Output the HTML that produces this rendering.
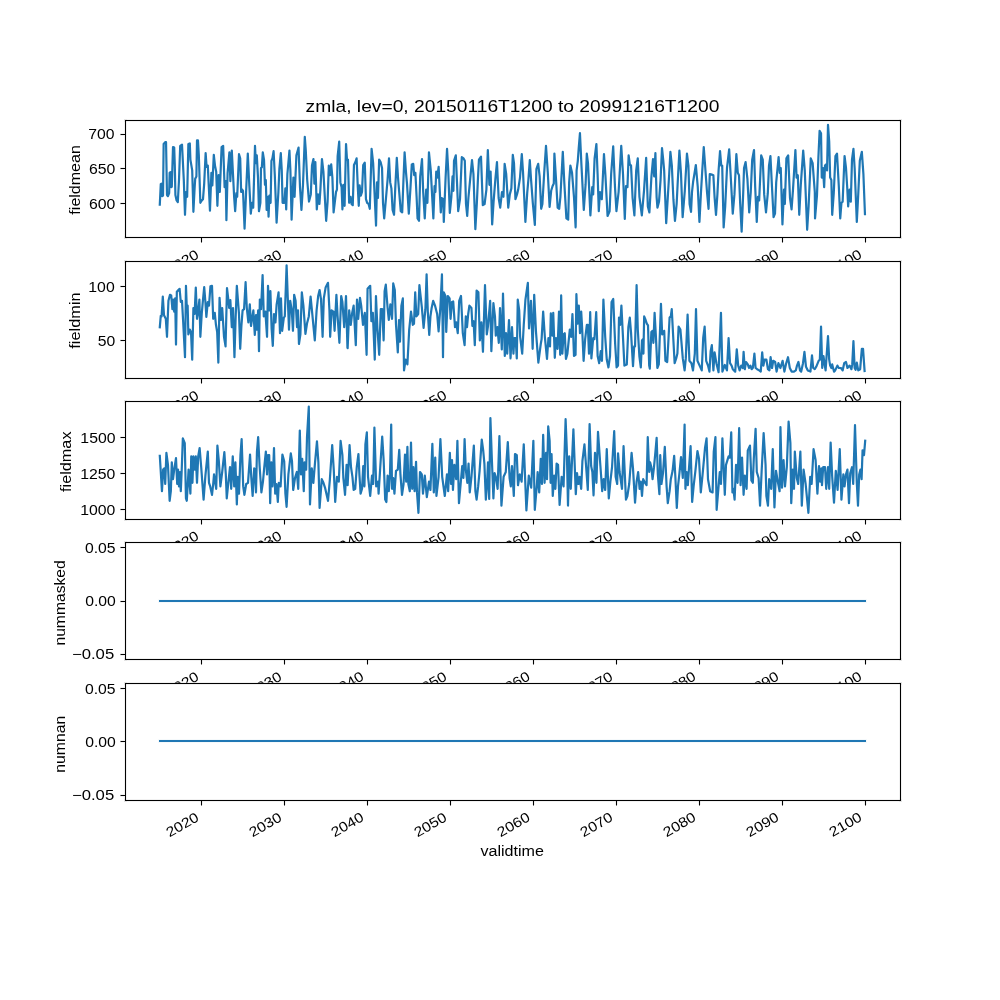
<!DOCTYPE html><html><head><meta charset="utf-8"><style>html,body{margin:0;padding:0;background:#fff;width:1000px;height:1000px;overflow:hidden}svg{display:block;will-change:transform}text{font-family:"Liberation Sans",sans-serif;fill:#000}</style></head><body>
<svg width="1000" height="1000" viewBox="0 0 1000 1000">
<rect x="0" y="0" width="1000" height="1000" fill="#fff"/>
<defs><clipPath id="c0"><rect x="125.0" y="120.000" width="775.0" height="117.241"/></clipPath><clipPath id="c1"><rect x="125.0" y="260.690" width="775.0" height="117.241"/></clipPath><clipPath id="c2"><rect x="125.0" y="401.379" width="775.0" height="117.241"/></clipPath><clipPath id="c3"><rect x="125.0" y="542.069" width="775.0" height="117.241"/></clipPath><clipPath id="c4"><rect x="125.0" y="682.759" width="775.0" height="117.241"/></clipPath></defs>
<g id="ax0">
<rect x="125.0" y="120.000" width="775.0" height="117.241" fill="#fff"/>
<path d="M159.80 204.60 L160.76 184.20 L161.60 183.60 L162.20 196.20 L163.04 195.60 L163.64 144.00 L165.20 142.20 L166.04 142.20 L167.00 195.00 L167.96 196.20 L169.16 193.20 L169.64 172.80 L170.60 172.20 L171.20 187.20 L171.80 186.60 L173.00 147.00 L174.20 147.60 L174.80 165.60 L175.40 195.00 L176.60 200.40 L177.80 202.20 L179.00 180.00 L180.20 145.80 L182.00 144.60 L183.80 180.00 L185.00 214.80 L185.96 192.00 L187.16 196.80 L188.36 144.00 L189.80 143.40 L190.40 159.60 L192.20 170.40 L193.40 211.80 L194.60 188.40 L195.20 178.80 L196.40 176.40 L197.00 140.40 L197.96 140.40 L198.80 154.80 L200.36 202.80 L201.80 200.40 L203.00 199.20 L204.20 183.60 L205.64 153.00 L206.60 166.80 L207.80 165.60 L209.96 210.60 L211.40 172.80 L212.36 185.40 L213.80 154.80 L215.00 165.60 L216.20 171.60 L217.40 205.80 L218.60 175.20 L219.80 192.00 L221.60 147.00 L223.16 145.80 L224.60 187.20 L225.80 181.20 L226.40 220.20 L227.60 172.80 L229.40 152.40 L230.36 181.20 L231.80 150.60 L234.20 198.00 L235.16 211.20 L236.36 193.20 L237.20 196.80 L239.00 154.20 L240.20 158.40 L241.16 192.00 L242.16 189.60 L243.00 190.80 L244.56 228.60 L246.00 194.40 L247.80 153.60 L249.36 186.00 L250.80 213.60 L252.00 202.80 L253.20 207.60 L255.00 145.80 L255.84 163.20 L256.80 155.40 L258.00 177.60 L258.96 211.20 L260.40 202.80 L261.00 168.00 L261.84 167.40 L262.80 152.40 L264.00 159.60 L264.96 184.80 L265.80 180.00 L266.64 210.00 L267.84 196.80 L268.56 216.60 L269.40 195.60 L270.60 202.80 L271.44 160.80 L272.40 158.40 L273.60 151.20 L274.80 175.20 L276.60 222.60 L278.40 192.00 L279.36 169.20 L280.80 153.00 L281.76 170.40 L282.60 202.80 L284.40 202.80 L285.36 188.40 L286.20 209.40 L287.40 174.00 L289.44 150.60 L290.40 170.40 L291.60 219.60 L293.40 177.60 L294.60 196.80 L296.40 155.40 L298.56 147.60 L300.00 187.20 L301.44 210.00 L303.00 184.80 L304.80 136.80 L305.76 150.00 L307.20 180.00 L309.00 201.60 L310.80 194.40 L312.00 165.60 L313.44 159.00 L314.40 183.60 L315.36 162.00 L316.80 209.40 L318.00 194.40 L319.44 204.00 L320.40 189.60 L321.96 159.00 L323.40 171.60 L326.16 220.80 L327.60 201.60 L328.80 165.60 L330.00 175.20 L331.20 164.40 L332.40 177.60 L333.60 212.40 L336.00 192.00 L336.96 189.60 L337.64 156.00 L339.20 141.60 L340.40 182.40 L341.60 187.20 L342.44 209.40 L343.40 184.80 L344.60 205.80 L346.04 144.00 L347.00 159.60 L347.96 159.60 L349.16 202.80 L350.60 196.80 L351.56 204.00 L352.76 205.20 L353.96 165.00 L355.40 162.00 L356.60 158.40 L357.80 187.20 L358.76 205.80 L359.60 185.40 L360.80 195.60 L362.00 192.00 L363.20 165.00 L364.76 162.60 L365.96 199.20 L367.16 202.80 L368.60 204.00 L369.80 208.80 L371.60 148.80 L373.16 163.20 L374.60 194.40 L376.04 225.60 L377.00 182.40 L377.96 198.00 L379.16 159.60 L380.60 162.00 L382.04 168.00 L383.00 202.80 L384.20 218.40 L386.00 198.00 L387.56 180.00 L389.00 158.40 L390.20 182.40 L391.40 188.40 L392.60 210.00 L394.04 214.80 L395.24 188.40 L396.80 157.80 L398.00 177.60 L399.20 192.00 L400.76 211.20 L402.20 212.40 L403.40 181.20 L404.60 152.40 L406.04 172.80 L407.00 183.60 L408.80 213.60 L410.36 189.60 L411.80 164.40 L413.24 163.80 L414.20 175.20 L415.40 172.80 L416.60 196.80 L417.56 218.40 L419.00 220.80 L420.20 176.40 L422.00 159.00 L423.20 192.00 L424.76 218.40 L426.20 189.60 L427.40 202.80 L428.96 152.40 L430.76 170.40 L433.36 218.40 L434.56 186.00 L435.40 192.00 L436.24 171.60 L437.20 177.60 L438.64 166.80 L439.84 192.00 L440.80 212.40 L441.76 198.00 L443.20 199.20 L443.80 222.00 L445.60 177.60 L447.04 148.80 L448.24 170.40 L449.80 213.00 L451.36 196.80 L452.56 176.40 L453.40 190.80 L454.00 160.80 L455.80 155.40 L457.00 182.40 L458.20 211.20 L460.00 199.20 L461.80 157.20 L463.60 158.40 L464.80 160.80 L466.00 204.00 L467.20 216.00 L468.40 198.00 L470.20 178.80 L472.00 160.20 L473.44 174.00 L475.36 229.20 L476.80 204.00 L478.00 177.60 L478.96 159.60 L481.00 156.60 L482.80 205.20 L484.60 204.00 L486.40 189.60 L487.84 150.00 L489.40 184.80 L490.60 171.60 L492.16 224.40 L493.60 201.60 L495.40 178.80 L496.96 162.00 L498.64 198.00 L500.20 207.60 L502.00 192.00 L503.44 196.80 L504.64 163.80 L506.20 174.00 L508.24 207.60 L509.80 194.40 L511.36 188.40 L512.80 154.80 L514.00 163.20 L515.44 199.20 L517.00 194.40 L518.20 189.60 L520.00 177.60 L521.80 154.20 L523.00 171.60 L525.40 222.00 L527.20 193.20 L528.36 180.00 L529.80 160.20 L531.00 178.80 L532.80 202.80 L534.84 225.00 L536.40 169.20 L538.20 163.80 L539.64 176.40 L541.20 208.80 L542.40 204.00 L544.20 172.80 L546.00 145.80 L547.80 172.80 L549.60 207.00 L551.16 190.80 L552.60 186.00 L553.80 183.60 L554.40 153.60 L556.20 182.40 L557.64 207.60 L559.20 208.80 L560.40 196.80 L562.80 151.80 L564.36 183.60 L566.40 218.40 L568.20 219.60 L569.16 182.40 L570.36 165.60 L572.04 172.80 L573.96 196.80 L575.64 227.40 L576.60 170.40 L577.80 160.80 L578.76 147.60 L579.96 133.20 L581.40 164.40 L583.80 210.00 L585.60 184.20 L586.80 153.60 L588.00 163.20 L590.40 215.40 L592.20 187.20 L593.16 194.40 L594.60 158.40 L596.40 144.00 L597.60 174.00 L598.80 211.20 L600.00 192.00 L601.80 199.20 L603.96 154.20 L605.40 175.20 L607.56 216.00 L609.60 211.20 L611.16 174.00 L613.20 146.40 L615.00 187.20 L616.44 211.20 L618.60 192.00 L621.24 145.80 L623.00 174.00 L624.80 219.00 L626.00 186.00 L627.44 187.20 L628.64 155.40 L629.84 164.40 L631.04 165.60 L632.60 198.00 L634.40 215.40 L636.20 170.40 L637.76 158.40 L639.44 196.80 L641.84 215.40 L644.00 190.80 L646.16 157.80 L647.84 206.40 L649.40 212.40 L651.44 176.40 L653.00 159.00 L654.20 176.40 L655.40 153.00 L656.60 196.80 L657.44 207.60 L659.00 201.60 L660.56 180.00 L662.00 148.20 L663.20 159.60 L664.16 170.40 L666.20 223.20 L667.76 198.00 L669.20 174.00 L670.40 151.80 L671.84 165.60 L673.40 199.20 L674.96 220.80 L676.64 204.00 L677.60 184.80 L679.40 150.60 L680.96 172.80 L682.64 217.20 L684.80 190.80 L686.96 153.60 L688.40 165.60 L689.60 204.00 L691.04 211.80 L692.00 192.00 L693.20 181.20 L694.40 174.00 L695.84 165.00 L697.76 187.20 L699.44 222.00 L701.00 192.00 L702.20 171.60 L703.76 147.00 L705.44 170.40 L707.00 192.00 L708.56 208.80 L709.76 174.00 L711.80 174.60 L713.36 175.20 L714.56 196.80 L716.00 214.80 L717.40 194.40 L718.60 170.40 L720.04 151.20 L721.24 165.60 L722.20 165.60 L723.64 227.40 L725.20 206.40 L727.00 168.00 L729.16 149.40 L730.60 174.00 L732.76 213.60 L734.44 194.40 L736.36 154.20 L737.80 172.80 L739.00 175.20 L740.20 204.00 L741.64 231.60 L743.20 193.20 L744.04 168.00 L745.60 162.00 L747.40 178.80 L749.20 212.40 L750.76 192.00 L752.20 159.60 L754.00 150.00 L755.20 187.20 L756.76 222.00 L757.96 196.80 L759.16 200.40 L761.20 155.40 L762.76 159.60 L764.20 194.40 L766.00 212.40 L767.80 193.20 L769.00 165.60 L770.44 156.00 L772.00 187.20 L773.56 217.20 L775.00 213.60 L776.20 182.40 L778.60 157.20 L779.80 172.80 L780.76 168.00 L782.44 224.40 L784.00 189.60 L784.84 204.00 L786.40 158.40 L788.20 155.40 L790.00 198.00 L791.56 209.40 L793.00 189.60 L795.40 150.00 L796.60 177.60 L797.80 175.20 L799.24 214.80 L800.80 184.80 L803.20 150.60 L804.76 170.40 L807.16 229.80 L808.60 206.40 L810.76 158.40 L812.64 163.20 L814.80 192.00 L815.04 218.40 L816.96 195.60 L818.40 157.20 L819.60 130.80 L821.04 133.20 L821.76 177.60 L822.96 168.00 L824.16 187.20 L825.00 165.60 L826.20 164.40 L827.04 170.40 L828.00 124.80 L829.20 141.60 L830.16 177.60 L831.36 180.00 L832.20 214.80 L833.76 193.20 L835.44 156.00 L837.00 153.60 L838.80 186.00 L840.24 218.40 L841.44 202.80 L842.64 201.60 L844.56 156.00 L846.00 168.00 L847.20 187.20 L848.16 206.40 L849.60 189.60 L850.80 201.60 L852.00 159.60 L853.44 148.80 L854.64 168.00 L856.80 222.00 L858.24 194.40 L859.80 160.80 L861.84 151.80 L863.40 174.00 L864.96 214.20" fill="none" stroke="#1f77b4" stroke-width="2.200" stroke-linejoin="round" stroke-linecap="square" clip-path="url(#c0)"/>
<g shape-rendering="crispEdges"><rect x="124" y="119" width="778" height="3" fill="#000" fill-opacity="0.055"/><rect x="124" y="236" width="778" height="3" fill="#000" fill-opacity="0.055"/><rect x="124" y="119" width="3" height="120" fill="#000" fill-opacity="0.055"/><rect x="899" y="119" width="3" height="120" fill="#000" fill-opacity="0.055"/><rect x="200" y="238" width="3" height="4" fill="#000" fill-opacity="0.055"/><rect x="283" y="238" width="3" height="4" fill="#000" fill-opacity="0.055"/><rect x="366" y="238" width="3" height="4" fill="#000" fill-opacity="0.055"/><rect x="449" y="238" width="3" height="4" fill="#000" fill-opacity="0.055"/><rect x="532" y="238" width="3" height="4" fill="#000" fill-opacity="0.055"/><rect x="615" y="238" width="3" height="4" fill="#000" fill-opacity="0.055"/><rect x="698" y="238" width="3" height="4" fill="#000" fill-opacity="0.055"/><rect x="781" y="238" width="3" height="4" fill="#000" fill-opacity="0.055"/><rect x="864" y="238" width="3" height="4" fill="#000" fill-opacity="0.055"/><rect x="120" y="133" width="4" height="3" fill="#000" fill-opacity="0.055"/><rect x="120" y="167" width="4" height="3" fill="#000" fill-opacity="0.055"/><rect x="120" y="202" width="4" height="3" fill="#000" fill-opacity="0.055"/><rect x="201" y="238" width="1" height="4" fill="#000"/><rect x="201" y="242" width="1" height="1" fill="#808080"/><rect x="284" y="238" width="1" height="4" fill="#000"/><rect x="284" y="242" width="1" height="1" fill="#808080"/><rect x="367" y="238" width="1" height="4" fill="#000"/><rect x="367" y="242" width="1" height="1" fill="#808080"/><rect x="450" y="238" width="1" height="4" fill="#000"/><rect x="450" y="242" width="1" height="1" fill="#808080"/><rect x="533" y="238" width="1" height="4" fill="#000"/><rect x="533" y="242" width="1" height="1" fill="#808080"/><rect x="616" y="238" width="1" height="4" fill="#000"/><rect x="616" y="242" width="1" height="1" fill="#808080"/><rect x="699" y="238" width="1" height="4" fill="#000"/><rect x="699" y="242" width="1" height="1" fill="#808080"/><rect x="782" y="238" width="1" height="4" fill="#000"/><rect x="782" y="242" width="1" height="1" fill="#808080"/><rect x="865" y="238" width="1" height="4" fill="#000"/><rect x="865" y="242" width="1" height="1" fill="#808080"/><rect x="121" y="134" width="4" height="1" fill="#000"/><rect x="120" y="134" width="1" height="1" fill="#808080"/><rect x="121" y="168" width="4" height="1" fill="#000"/><rect x="120" y="168" width="1" height="1" fill="#808080"/><rect x="121" y="203" width="4" height="1" fill="#000"/><rect x="120" y="203" width="1" height="1" fill="#808080"/><rect x="125" y="120" width="776" height="1" fill="#000"/><rect x="125" y="237" width="776" height="1" fill="#000"/><rect x="125" y="120" width="1" height="118" fill="#000"/><rect x="900" y="120" width="1" height="118" fill="#000"/></g>
<text transform="translate(169.54 274.83) rotate(-30)" font-size="13.889" text-anchor="start" textLength="35.00" lengthAdjust="spacingAndGlyphs">2020</text>
<text transform="translate(252.40 274.83) rotate(-30)" font-size="13.889" text-anchor="start" textLength="35.00" lengthAdjust="spacingAndGlyphs">2030</text>
<text transform="translate(334.48 274.67) rotate(-30)" font-size="13.889" text-anchor="start" textLength="35.00" lengthAdjust="spacingAndGlyphs">2040</text>
<text transform="translate(417.44 274.76) rotate(-30)" font-size="13.889" text-anchor="start" textLength="35.00" lengthAdjust="spacingAndGlyphs">2050</text>
<text transform="translate(500.59 274.65) rotate(-30)" font-size="13.889" text-anchor="start" textLength="35.12" lengthAdjust="spacingAndGlyphs">2060</text>
<text transform="translate(583.56 274.70) rotate(-30)" font-size="13.889" text-anchor="start" textLength="35.00" lengthAdjust="spacingAndGlyphs">2070</text>
<text transform="translate(666.56 274.64) rotate(-30)" font-size="13.889" text-anchor="start" textLength="35.12" lengthAdjust="spacingAndGlyphs">2080</text>
<text transform="translate(749.54 274.62) rotate(-30)" font-size="13.889" text-anchor="start" textLength="35.12" lengthAdjust="spacingAndGlyphs">2090</text>
<text transform="translate(832.55 274.62) rotate(-30)" font-size="13.889" text-anchor="start" textLength="35.12" lengthAdjust="spacingAndGlyphs">2100</text>
<text transform="translate(115.40 209.31)" font-size="13.889" text-anchor="end" textLength="26.38" lengthAdjust="spacingAndGlyphs">600</text>
<text transform="translate(115.38 173.71)" font-size="13.889" text-anchor="end" textLength="26.38" lengthAdjust="spacingAndGlyphs">650</text>
<text transform="translate(114.46 138.92)" font-size="13.889" text-anchor="end" textLength="26.25" lengthAdjust="spacingAndGlyphs">700</text>
<text transform="translate(80.26 179.88) rotate(-90)" font-size="13.889" text-anchor="middle" textLength="69.50" lengthAdjust="spacingAndGlyphs">fieldmean</text>
<text transform="translate(512.47 112.07)" font-size="16.667" text-anchor="middle" textLength="413.72" lengthAdjust="spacingAndGlyphs">zmla, lev=0, 20150116T1200 to 20991216T1200</text>
</g>
<g id="ax1">
<rect x="125.0" y="260.690" width="775.0" height="117.241" fill="#fff"/>
<path d="M159.80 327.20 L160.76 315.80 L161.60 316.40 L162.80 296.60 L164.00 315.20 L165.80 318.80 L167.00 336.80 L168.44 300.80 L170.00 294.80 L171.20 295.40 L172.40 309.20 L173.24 299.60 L174.20 311.60 L175.16 298.40 L176.00 344.60 L176.84 291.80 L178.40 290.00 L179.60 288.80 L180.80 302.00 L182.00 300.80 L183.20 322.40 L185.00 357.20 L185.96 285.80 L186.80 308.00 L187.64 305.60 L188.36 334.40 L189.80 329.60 L191.00 332.00 L192.20 359.60 L193.40 308.00 L194.60 314.00 L195.80 287.60 L197.00 318.80 L198.20 311.60 L199.40 299.60 L200.36 336.80 L201.80 312.80 L203.00 299.60 L204.20 287.00 L205.40 302.00 L206.36 317.00 L207.80 302.00 L209.00 305.60 L210.44 286.40 L212.00 285.80 L213.20 318.80 L214.76 312.80 L215.96 324.80 L217.16 332.00 L218.36 362.60 L219.56 297.80 L221.00 320.00 L222.20 308.00 L224.00 336.80 L225.56 346.40 L227.00 288.20 L228.20 298.40 L229.16 308.00 L230.36 300.20 L231.80 327.20 L233.00 308.00 L234.44 357.20 L235.64 317.60 L236.84 285.80 L239.00 314.00 L240.20 348.80 L241.40 326.00 L242.60 310.40 L244.04 309.20 L245.60 282.20 L246.80 308.00 L248.36 322.40 L249.80 304.40 L251.00 326.00 L253.36 310.40 L254.80 335.00 L256.00 315.20 L256.96 329.60 L258.16 310.40 L259.00 351.20 L259.84 299.60 L261.04 309.20 L262.60 275.00 L263.80 316.40 L265.36 311.60 L267.04 336.80 L268.00 285.80 L269.20 310.40 L270.40 291.20 L271.60 328.40 L272.80 345.80 L274.00 314.00 L275.44 322.40 L276.64 304.40 L278.56 292.40 L280.00 333.20 L280.96 298.40 L282.16 330.80 L283.84 317.60 L284.80 316.40 L286.60 265.40 L287.80 298.40 L289.00 329.60 L290.20 300.80 L291.76 310.40 L292.96 330.80 L294.16 294.80 L295.60 300.80 L297.04 327.20 L298.00 310.40 L298.96 344.00 L300.40 334.40 L301.84 292.40 L303.40 305.60 L305.44 333.80 L307.00 323.60 L308.80 316.40 L310.60 296.60 L312.40 315.20 L314.80 340.40 L316.60 310.40 L318.16 296.00 L319.60 290.00 L321.04 299.60 L322.60 336.80 L323.80 298.40 L325.60 287.60 L328.00 282.80 L329.44 310.40 L330.16 336.80 L331.60 310.40 L333.40 311.60 L334.60 330.80 L336.40 294.80 L337.60 316.40 L339.40 342.80 L341.20 296.00 L342.40 302.00 L344.20 327.20 L346.00 296.00 L347.44 347.60 L347.64 348.20 L349.20 310.40 L350.76 324.80 L352.20 312.80 L353.64 305.60 L355.80 345.20 L357.00 299.60 L358.20 318.80 L360.00 297.80 L361.20 305.60 L363.00 324.80 L364.80 312.80 L366.60 354.80 L367.56 288.80 L370.20 285.80 L371.40 321.20 L372.84 312.80 L374.76 359.60 L375.96 296.00 L377.40 328.40 L379.20 354.80 L380.76 309.20 L382.20 309.20 L383.64 340.40 L384.60 291.20 L385.80 284.60 L387.60 308.00 L388.80 320.00 L390.36 304.40 L392.04 318.80 L393.24 283.40 L394.80 290.00 L396.00 324.80 L397.80 352.40 L399.00 320.00 L399.96 341.60 L401.40 305.60 L402.84 298.40 L404.04 370.40 L405.60 359.60 L407.40 364.40 L409.20 329.60 L411.00 311.60 L412.80 324.80 L414.00 323.60 L415.20 292.40 L416.40 316.40 L418.20 314.00 L419.40 285.20 L421.80 306.80 L423.60 327.80 L425.40 309.20 L426.60 274.40 L427.80 311.60 L429.24 335.00 L430.44 316.40 L431.64 308.00 L433.20 300.80 L435.00 305.60 L437.16 314.00 L438.60 331.40 L440.40 306.80 L441.96 274.40 L443.00 357.20 L443.84 292.40 L445.40 296.00 L446.24 332.00 L447.80 296.00 L449.60 298.40 L450.56 318.80 L452.00 302.00 L453.20 301.40 L455.00 327.20 L456.20 322.40 L457.76 333.20 L459.20 300.80 L461.00 296.00 L462.80 333.20 L464.60 345.20 L465.80 316.40 L467.00 327.20 L468.20 314.00 L469.40 305.60 L471.44 308.00 L472.40 326.00 L473.60 321.20 L474.80 345.20 L476.60 290.60 L478.40 292.40 L479.84 340.40 L481.40 322.40 L482.96 351.80 L485.00 285.20 L486.80 334.40 L488.00 326.00 L490.16 300.80 L491.36 351.20 L493.40 303.20 L494.96 316.40 L495.80 335.60 L497.36 327.20 L498.80 342.80 L500.00 308.00 L501.80 349.40 L503.00 293.60 L504.80 356.00 L506.00 333.20 L507.20 353.60 L509.00 320.00 L510.56 358.40 L512.00 327.20 L513.44 353.60 L514.40 338.00 L515.60 338.00 L516.80 358.40 L517.76 299.60 L519.20 310.40 L520.16 336.80 L522.20 353.60 L523.76 324.80 L525.44 299.60 L527.84 282.80 L529.04 328.40 L530.96 300.80 L532.64 348.80 L534.20 294.80 L536.00 332.00 L538.36 362.60 L540.76 344.00 L541.60 339.20 L543.16 311.60 L544.84 336.80 L547.00 359.00 L548.44 338.00 L550.00 346.40 L550.84 313.40 L552.40 335.60 L553.24 312.80 L554.80 357.80 L556.00 338.00 L557.56 348.80 L559.00 311.60 L560.20 354.80 L561.16 295.40 L562.36 353.60 L563.56 334.40 L564.76 333.20 L565.96 359.00 L567.40 353.60 L569.80 329.60 L571.24 336.80 L572.44 314.00 L574.00 356.00 L575.56 354.80 L576.40 294.20 L577.60 323.60 L578.80 305.60 L580.00 333.20 L581.20 311.60 L582.04 326.00 L583.60 360.80 L585.16 339.20 L586.84 324.80 L587.80 324.80 L589.00 353.60 L590.20 312.20 L591.40 358.40 L593.20 338.00 L594.40 339.20 L596.20 312.20 L597.64 356.00 L599.20 363.20 L600.76 351.20 L601.96 360.80 L603.40 299.60 L605.20 336.80 L606.76 359.60 L608.44 367.40 L610.00 356.00 L611.56 302.00 L613.24 299.00 L615.16 344.00 L616.60 367.40 L618.04 365.60 L619.00 317.60 L620.20 324.80 L621.40 305.60 L622.60 329.60 L624.40 365.60 L626.80 364.40 L628.36 327.20 L629.80 317.60 L631.00 332.00 L633.00 366.20 L634.20 346.40 L635.04 346.40 L636.60 285.20 L637.80 329.60 L639.36 356.00 L640.80 367.40 L642.00 340.40 L642.96 339.20 L643.44 353.60 L644.16 316.40 L645.60 320.00 L646.80 323.60 L648.00 325.40 L649.20 365.60 L649.80 368.60 L651.36 332.00 L652.56 330.80 L653.40 342.80 L654.60 312.80 L655.80 334.40 L657.36 368.00 L658.80 364.40 L660.96 303.80 L662.16 334.40 L664.20 330.80 L665.40 360.80 L667.20 362.00 L668.16 345.20 L669.60 317.60 L670.80 316.40 L671.76 309.20 L673.20 336.80 L674.64 363.20 L676.20 358.40 L677.40 353.60 L678.60 326.60 L680.40 329.60 L682.80 358.40 L684.60 370.40 L685.80 358.40 L687.60 314.60 L689.40 360.80 L691.44 363.20 L693.00 370.40 L694.80 353.60 L696.00 309.20 L697.44 360.80 L699.60 365.60 L701.76 370.40 L703.20 338.00 L704.64 326.60 L706.20 360.80 L708.00 365.60 L709.44 371.60 L710.64 351.20 L711.84 345.20 L713.40 370.40 L714.60 352.40 L716.40 363.20 L718.56 372.20 L720.96 312.80 L722.40 371.60 L724.80 365.00 L726.96 370.40 L728.60 338.00 L730.04 363.20 L731.60 365.60 L732.80 369.20 L735.20 371.60 L736.76 349.40 L738.20 365.60 L739.64 370.40 L741.20 365.60 L742.76 368.00 L743.60 351.80 L744.80 369.20 L746.00 362.00 L747.80 364.40 L749.00 368.00 L750.44 365.60 L751.64 369.20 L752.84 368.00 L754.40 353.60 L755.60 368.00 L757.16 369.20 L759.20 370.40 L760.76 371.60 L762.20 352.40 L763.40 365.60 L764.60 359.60 L766.40 359.60 L767.96 369.20 L769.40 370.40 L770.60 357.20 L772.04 368.00 L773.24 360.80 L775.16 362.00 L776.60 371.60 L778.40 363.20 L780.44 368.00 L782.60 360.80 L784.40 371.60 L786.20 363.20 L788.00 357.20 L789.80 368.00 L791.60 371.60 L794.00 371.60 L795.80 370.40 L797.00 365.60 L798.44 362.00 L800.00 370.40 L801.20 371.60 L803.00 363.20 L804.44 351.80 L806.00 366.80 L807.80 370.40 L810.44 371.60 L812.00 355.40 L813.20 368.00 L814.76 369.20 L816.20 366.80 L818.64 360.80 L819.84 359.60 L821.04 326.60 L822.24 368.00 L823.44 356.00 L824.64 364.40 L825.60 370.40 L828.00 336.20 L829.20 359.60 L830.16 365.60 L831.36 368.00 L832.20 364.40 L834.00 371.60 L835.20 370.40 L837.36 365.60 L838.80 368.00 L840.96 368.00 L842.64 370.40 L844.20 363.20 L846.00 362.00 L847.44 368.00 L849.60 365.60 L851.40 369.20 L852.24 364.40 L853.44 341.00 L854.64 368.00 L855.60 369.80 L856.80 362.60 L858.24 370.40 L860.16 369.20 L861.84 348.80 L863.04 348.80 L864.60 371.00" fill="none" stroke="#1f77b4" stroke-width="2.200" stroke-linejoin="round" stroke-linecap="square" clip-path="url(#c1)"/>
<g shape-rendering="crispEdges"><rect x="124" y="260" width="778" height="3" fill="#000" fill-opacity="0.055"/><rect x="124" y="377" width="778" height="3" fill="#000" fill-opacity="0.055"/><rect x="124" y="260" width="3" height="120" fill="#000" fill-opacity="0.055"/><rect x="899" y="260" width="3" height="120" fill="#000" fill-opacity="0.055"/><rect x="200" y="379" width="3" height="4" fill="#000" fill-opacity="0.055"/><rect x="283" y="379" width="3" height="4" fill="#000" fill-opacity="0.055"/><rect x="366" y="379" width="3" height="4" fill="#000" fill-opacity="0.055"/><rect x="449" y="379" width="3" height="4" fill="#000" fill-opacity="0.055"/><rect x="532" y="379" width="3" height="4" fill="#000" fill-opacity="0.055"/><rect x="615" y="379" width="3" height="4" fill="#000" fill-opacity="0.055"/><rect x="698" y="379" width="3" height="4" fill="#000" fill-opacity="0.055"/><rect x="781" y="379" width="3" height="4" fill="#000" fill-opacity="0.055"/><rect x="864" y="379" width="3" height="4" fill="#000" fill-opacity="0.055"/><rect x="120" y="285" width="4" height="3" fill="#000" fill-opacity="0.055"/><rect x="120" y="339" width="4" height="3" fill="#000" fill-opacity="0.055"/><rect x="201" y="379" width="1" height="4" fill="#000"/><rect x="201" y="383" width="1" height="1" fill="#808080"/><rect x="284" y="379" width="1" height="4" fill="#000"/><rect x="284" y="383" width="1" height="1" fill="#808080"/><rect x="367" y="379" width="1" height="4" fill="#000"/><rect x="367" y="383" width="1" height="1" fill="#808080"/><rect x="450" y="379" width="1" height="4" fill="#000"/><rect x="450" y="383" width="1" height="1" fill="#808080"/><rect x="533" y="379" width="1" height="4" fill="#000"/><rect x="533" y="383" width="1" height="1" fill="#808080"/><rect x="616" y="379" width="1" height="4" fill="#000"/><rect x="616" y="383" width="1" height="1" fill="#808080"/><rect x="699" y="379" width="1" height="4" fill="#000"/><rect x="699" y="383" width="1" height="1" fill="#808080"/><rect x="782" y="379" width="1" height="4" fill="#000"/><rect x="782" y="383" width="1" height="1" fill="#808080"/><rect x="865" y="379" width="1" height="4" fill="#000"/><rect x="865" y="383" width="1" height="1" fill="#808080"/><rect x="121" y="286" width="4" height="1" fill="#000"/><rect x="120" y="286" width="1" height="1" fill="#808080"/><rect x="121" y="340" width="4" height="1" fill="#000"/><rect x="120" y="340" width="1" height="1" fill="#808080"/><rect x="125" y="261" width="776" height="1" fill="#000"/><rect x="125" y="378" width="776" height="1" fill="#000"/><rect x="125" y="261" width="1" height="118" fill="#000"/><rect x="900" y="261" width="1" height="118" fill="#000"/></g>
<text transform="translate(169.54 415.51) rotate(-30)" font-size="13.889" text-anchor="start" textLength="35.00" lengthAdjust="spacingAndGlyphs">2020</text>
<text transform="translate(252.40 415.52) rotate(-30)" font-size="13.889" text-anchor="start" textLength="35.00" lengthAdjust="spacingAndGlyphs">2030</text>
<text transform="translate(334.48 415.36) rotate(-30)" font-size="13.889" text-anchor="start" textLength="35.00" lengthAdjust="spacingAndGlyphs">2040</text>
<text transform="translate(417.44 415.45) rotate(-30)" font-size="13.889" text-anchor="start" textLength="35.00" lengthAdjust="spacingAndGlyphs">2050</text>
<text transform="translate(500.59 415.34) rotate(-30)" font-size="13.889" text-anchor="start" textLength="35.12" lengthAdjust="spacingAndGlyphs">2060</text>
<text transform="translate(583.56 415.39) rotate(-30)" font-size="13.889" text-anchor="start" textLength="35.00" lengthAdjust="spacingAndGlyphs">2070</text>
<text transform="translate(666.56 415.33) rotate(-30)" font-size="13.889" text-anchor="start" textLength="35.12" lengthAdjust="spacingAndGlyphs">2080</text>
<text transform="translate(749.54 415.31) rotate(-30)" font-size="13.889" text-anchor="start" textLength="35.12" lengthAdjust="spacingAndGlyphs">2090</text>
<text transform="translate(832.55 415.31) rotate(-30)" font-size="13.889" text-anchor="start" textLength="35.12" lengthAdjust="spacingAndGlyphs">2100</text>
<text transform="translate(115.28 345.68)" font-size="13.889" text-anchor="end" textLength="17.50" lengthAdjust="spacingAndGlyphs">50</text>
<text transform="translate(114.69 291.52)" font-size="13.889" text-anchor="end" textLength="26.38" lengthAdjust="spacingAndGlyphs">100</text>
<text transform="translate(80.28 320.54) rotate(-90)" font-size="13.889" text-anchor="middle" textLength="56.25" lengthAdjust="spacingAndGlyphs">fieldmin</text>
</g>
<g id="ax2">
<rect x="125.0" y="401.379" width="775.0" height="117.241" fill="#fff"/>
<path d="M159.80 455.80 L161.96 491.20 L163.16 469.60 L164.36 468.40 L165.20 484.00 L166.40 452.80 L167.96 464.80 L169.64 500.80 L170.84 491.20 L171.80 462.40 L173.00 479.20 L174.20 469.60 L176.00 458.20 L177.20 484.00 L178.04 469.60 L179.00 486.40 L179.96 472.00 L180.80 491.20 L181.64 472.00 L182.84 438.40 L184.76 443.20 L185.96 498.40 L186.80 500.80 L188.60 469.60 L190.40 493.60 L191.24 456.40 L192.44 482.80 L193.40 456.40 L194.84 469.60 L195.80 456.40 L197.00 482.80 L198.20 456.40 L199.64 448.00 L201.20 467.20 L203.60 499.60 L205.40 475.60 L207.80 451.60 L209.00 482.80 L210.20 486.40 L212.00 494.80 L213.20 484.00 L214.04 474.40 L216.20 488.80 L217.40 445.60 L218.84 461.20 L220.40 486.40 L222.20 472.00 L224.36 452.20 L225.80 474.40 L226.76 498.40 L228.20 484.00 L230.00 467.20 L231.20 488.80 L232.76 456.40 L234.20 486.40 L235.40 462.40 L236.84 504.40 L237.80 476.80 L239.00 493.60 L240.44 455.20 L241.64 439.00 L243.20 486.40 L244.40 494.80 L246.20 484.00 L248.00 482.80 L250.04 454.60 L251.24 476.80 L252.64 496.00 L254.20 468.40 L255.04 469.60 L256.00 492.40 L256.96 451.60 L258.16 437.20 L259.60 466.00 L261.40 492.40 L262.96 481.60 L264.16 468.40 L265.84 451.60 L267.04 474.40 L268.00 455.20 L269.20 455.20 L270.16 503.20 L271.36 462.40 L272.56 486.40 L274.00 448.00 L275.20 493.60 L276.40 484.00 L277.84 502.00 L278.80 482.80 L280.60 486.40 L282.40 454.60 L284.20 461.20 L285.40 493.60 L286.60 506.80 L288.40 474.40 L290.80 453.40 L292.00 461.20 L293.20 490.00 L295.00 478.00 L296.80 472.00 L298.24 488.80 L299.80 430.60 L301.00 474.40 L302.20 458.80 L303.76 491.20 L304.60 462.40 L306.16 469.60 L307.00 437.20 L308.80 406.60 L310.00 504.40 L311.80 468.40 L313.36 482.80 L315.04 462.40 L316.96 441.40 L318.40 462.40 L319.60 508.00 L321.76 479.20 L323.44 482.80 L325.00 487.60 L328.00 500.80 L329.80 480.40 L332.20 445.00 L333.76 469.60 L335.20 502.00 L337.00 476.80 L338.80 481.60 L340.60 440.80 L342.40 455.20 L343.36 478.00 L345.04 494.80 L346.60 464.80 L347.64 485.20 L349.56 445.00 L351.00 467.20 L352.44 476.80 L353.64 490.00 L355.20 488.80 L356.76 467.20 L358.44 454.00 L359.40 474.40 L360.60 493.60 L362.04 488.80 L363.24 466.00 L364.44 486.40 L365.40 444.40 L366.84 432.40 L368.04 476.80 L370.20 496.00 L372.00 475.60 L373.20 484.00 L374.40 427.60 L376.20 486.40 L378.00 481.60 L378.60 493.60 L380.04 470.80 L382.20 436.60 L383.64 460.00 L385.20 499.60 L386.40 502.00 L387.60 475.60 L388.80 491.20 L390.00 474.40 L391.20 424.60 L392.04 488.80 L393.24 478.00 L394.44 493.60 L396.00 470.80 L397.80 469.60 L399.24 449.80 L400.44 474.40 L402.00 494.80 L403.56 484.00 L405.00 454.60 L406.20 481.60 L407.40 446.80 L408.36 484.00 L409.80 491.20 L411.00 442.60 L412.20 488.80 L413.40 467.20 L414.60 491.20 L416.04 461.80 L417.00 492.40 L418.44 512.80 L420.00 472.00 L421.80 474.40 L423.00 493.60 L424.80 475.60 L426.84 497.20 L429.00 481.60 L430.44 490.00 L432.36 443.80 L433.80 492.40 L435.24 457.60 L436.44 496.00 L438.60 476.80 L440.40 439.00 L442.20 476.80 L444.80 496.00 L446.96 474.40 L448.16 491.20 L449.84 452.80 L451.04 484.00 L452.00 460.00 L452.96 490.00 L454.40 464.80 L456.20 479.20 L457.40 440.80 L458.96 503.20 L460.64 484.00 L462.20 466.00 L463.40 478.00 L464.60 439.00 L465.80 469.60 L467.36 482.80 L468.56 463.60 L469.76 492.40 L471.44 476.80 L473.84 445.60 L475.40 491.20 L476.60 499.60 L478.16 486.40 L479.60 470.80 L481.76 439.60 L483.20 450.40 L484.40 463.60 L485.84 499.60 L487.04 484.00 L488.00 462.40 L489.20 499.00 L490.40 418.00 L491.84 458.80 L493.40 498.40 L494.60 473.20 L496.16 478.00 L497.60 488.80 L499.40 436.00 L501.44 505.60 L503.60 476.80 L505.76 472.00 L507.80 442.00 L509.60 478.00 L510.80 486.40 L512.00 466.00 L513.80 496.00 L515.00 454.00 L516.80 455.20 L518.00 485.20 L519.80 474.40 L521.60 481.60 L523.76 444.40 L526.40 510.40 L528.80 475.60 L531.20 487.60 L533.36 440.80 L534.80 509.80 L536.96 484.00 L537.64 472.00 L539.20 492.40 L540.76 458.80 L541.96 484.00 L543.16 434.80 L544.60 482.80 L546.04 452.80 L547.00 479.20 L548.20 426.40 L549.64 440.80 L550.60 482.80 L551.56 454.00 L552.76 496.00 L554.20 475.60 L555.40 488.80 L556.60 463.60 L558.04 464.80 L559.60 505.00 L561.64 476.80 L563.56 486.40 L565.60 419.20 L566.80 449.20 L568.00 505.60 L569.20 456.40 L570.76 488.80 L573.40 429.40 L575.80 494.20 L577.00 473.20 L578.44 484.00 L579.64 476.80 L581.20 488.80 L582.40 461.20 L584.44 444.40 L586.00 464.80 L587.80 490.00 L589.60 424.00 L591.16 466.00 L592.36 472.00 L593.56 495.40 L595.00 452.80 L596.44 482.80 L598.00 431.80 L600.40 466.00 L602.20 491.20 L603.64 479.20 L605.20 490.00 L606.76 449.20 L608.80 498.40 L610.36 481.60 L612.04 467.20 L614.20 431.20 L615.64 476.80 L617.20 484.00 L618.04 453.40 L619.60 472.00 L622.00 488.80 L623.56 446.20 L625.96 499.60 L627.40 496.00 L629.20 484.00 L631.60 452.80 L633.00 468.40 L635.04 502.60 L636.60 481.60 L638.16 472.00 L639.60 488.80 L640.80 481.60 L642.00 496.00 L643.20 479.20 L645.00 482.80 L646.56 485.20 L647.76 437.20 L649.20 472.00 L650.16 462.40 L651.36 467.20 L652.56 479.20 L654.00 467.20 L655.44 451.60 L656.64 437.80 L657.84 474.40 L659.40 494.20 L660.24 455.20 L661.44 484.00 L663.00 473.20 L664.80 446.80 L666.60 486.40 L667.80 503.20 L669.60 491.20 L670.80 479.20 L672.60 470.80 L674.16 455.80 L675.36 476.80 L676.80 508.00 L678.00 486.40 L679.44 473.20 L681.00 457.00 L682.80 478.00 L684.60 424.60 L685.44 488.80 L686.64 472.00 L687.84 485.20 L689.40 462.40 L690.60 446.20 L692.16 502.00 L693.60 486.40 L695.40 470.80 L697.44 451.00 L699.00 458.80 L700.80 492.40 L702.60 474.40 L705.00 448.00 L706.56 438.40 L708.00 479.20 L710.16 491.20 L712.56 492.40 L713.76 451.60 L715.44 437.20 L716.64 509.80 L718.56 486.40 L719.76 472.00 L720.96 484.00 L722.40 438.40 L724.80 494.80 L726.00 464.80 L728.60 456.40 L729.80 457.60 L731.24 432.40 L732.44 492.40 L733.40 488.80 L734.60 499.60 L736.04 464.80 L737.60 482.80 L739.16 428.20 L740.60 485.20 L742.04 457.60 L743.60 494.80 L744.80 475.60 L746.60 488.80 L747.80 450.40 L749.96 445.60 L751.40 480.40 L752.84 482.80 L753.80 458.80 L755.60 428.80 L756.80 472.00 L758.60 478.00 L760.04 505.60 L761.60 472.00 L763.64 433.00 L765.56 464.80 L766.40 496.00 L767.96 505.60 L769.16 479.20 L771.20 488.80 L772.76 449.20 L774.44 507.40 L776.00 470.80 L777.80 481.60 L779.60 491.20 L780.44 427.00 L782.00 487.60 L783.56 460.00 L785.00 486.40 L786.80 467.20 L788.60 421.60 L790.40 443.20 L791.24 503.20 L792.80 469.60 L794.00 488.80 L794.84 451.60 L796.76 478.00 L798.20 484.00 L800.36 451.60 L801.80 505.60 L803.60 469.60 L805.64 484.00 L808.40 512.80 L810.20 476.80 L811.64 484.00 L813.56 449.20 L815.60 460.00 L817.40 493.60 L819.00 466.00 L820.20 481.60 L821.40 468.40 L822.00 485.20 L823.20 467.20 L825.00 467.20 L826.20 488.80 L828.00 467.20 L829.20 488.80 L830.64 442.60 L832.20 476.80 L834.00 502.60 L835.80 470.80 L837.60 490.00 L839.76 449.20 L841.44 499.60 L843.36 474.40 L844.56 486.40 L846.00 474.40 L847.44 469.60 L849.00 503.20 L850.20 473.20 L852.00 467.20 L853.20 484.00 L855.00 425.20 L856.80 482.80 L858.00 505.60 L859.20 474.40 L860.40 469.60 L861.60 479.20 L862.56 450.40 L864.00 455.20 L865.20 440.80" fill="none" stroke="#1f77b4" stroke-width="2.200" stroke-linejoin="round" stroke-linecap="square" clip-path="url(#c2)"/>
<g shape-rendering="crispEdges"><rect x="124" y="400" width="778" height="3" fill="#000" fill-opacity="0.055"/><rect x="124" y="518" width="778" height="3" fill="#000" fill-opacity="0.055"/><rect x="124" y="400" width="3" height="121" fill="#000" fill-opacity="0.055"/><rect x="899" y="400" width="3" height="121" fill="#000" fill-opacity="0.055"/><rect x="200" y="520" width="3" height="4" fill="#000" fill-opacity="0.055"/><rect x="283" y="520" width="3" height="4" fill="#000" fill-opacity="0.055"/><rect x="366" y="520" width="3" height="4" fill="#000" fill-opacity="0.055"/><rect x="449" y="520" width="3" height="4" fill="#000" fill-opacity="0.055"/><rect x="532" y="520" width="3" height="4" fill="#000" fill-opacity="0.055"/><rect x="615" y="520" width="3" height="4" fill="#000" fill-opacity="0.055"/><rect x="698" y="520" width="3" height="4" fill="#000" fill-opacity="0.055"/><rect x="781" y="520" width="3" height="4" fill="#000" fill-opacity="0.055"/><rect x="864" y="520" width="3" height="4" fill="#000" fill-opacity="0.055"/><rect x="120" y="436" width="4" height="3" fill="#000" fill-opacity="0.055"/><rect x="120" y="472" width="4" height="3" fill="#000" fill-opacity="0.055"/><rect x="120" y="508" width="4" height="3" fill="#000" fill-opacity="0.055"/><rect x="201" y="520" width="1" height="4" fill="#000"/><rect x="201" y="524" width="1" height="1" fill="#808080"/><rect x="284" y="520" width="1" height="4" fill="#000"/><rect x="284" y="524" width="1" height="1" fill="#808080"/><rect x="367" y="520" width="1" height="4" fill="#000"/><rect x="367" y="524" width="1" height="1" fill="#808080"/><rect x="450" y="520" width="1" height="4" fill="#000"/><rect x="450" y="524" width="1" height="1" fill="#808080"/><rect x="533" y="520" width="1" height="4" fill="#000"/><rect x="533" y="524" width="1" height="1" fill="#808080"/><rect x="616" y="520" width="1" height="4" fill="#000"/><rect x="616" y="524" width="1" height="1" fill="#808080"/><rect x="699" y="520" width="1" height="4" fill="#000"/><rect x="699" y="524" width="1" height="1" fill="#808080"/><rect x="782" y="520" width="1" height="4" fill="#000"/><rect x="782" y="524" width="1" height="1" fill="#808080"/><rect x="865" y="520" width="1" height="4" fill="#000"/><rect x="865" y="524" width="1" height="1" fill="#808080"/><rect x="121" y="437" width="4" height="1" fill="#000"/><rect x="120" y="437" width="1" height="1" fill="#808080"/><rect x="121" y="473" width="4" height="1" fill="#000"/><rect x="120" y="473" width="1" height="1" fill="#808080"/><rect x="121" y="509" width="4" height="1" fill="#000"/><rect x="120" y="509" width="1" height="1" fill="#808080"/><rect x="125" y="401" width="776" height="1" fill="#000"/><rect x="125" y="519" width="776" height="1" fill="#000"/><rect x="125" y="401" width="1" height="119" fill="#000"/><rect x="900" y="401" width="1" height="119" fill="#000"/></g>
<text transform="translate(169.54 556.20) rotate(-30)" font-size="13.889" text-anchor="start" textLength="35.00" lengthAdjust="spacingAndGlyphs">2020</text>
<text transform="translate(252.40 556.21) rotate(-30)" font-size="13.889" text-anchor="start" textLength="35.00" lengthAdjust="spacingAndGlyphs">2030</text>
<text transform="translate(334.48 556.05) rotate(-30)" font-size="13.889" text-anchor="start" textLength="35.00" lengthAdjust="spacingAndGlyphs">2040</text>
<text transform="translate(417.44 556.14) rotate(-30)" font-size="13.889" text-anchor="start" textLength="35.00" lengthAdjust="spacingAndGlyphs">2050</text>
<text transform="translate(500.59 556.03) rotate(-30)" font-size="13.889" text-anchor="start" textLength="35.12" lengthAdjust="spacingAndGlyphs">2060</text>
<text transform="translate(583.56 556.08) rotate(-30)" font-size="13.889" text-anchor="start" textLength="35.00" lengthAdjust="spacingAndGlyphs">2070</text>
<text transform="translate(666.56 556.02) rotate(-30)" font-size="13.889" text-anchor="start" textLength="35.12" lengthAdjust="spacingAndGlyphs">2080</text>
<text transform="translate(749.54 556.00) rotate(-30)" font-size="13.889" text-anchor="start" textLength="35.12" lengthAdjust="spacingAndGlyphs">2090</text>
<text transform="translate(832.55 556.00) rotate(-30)" font-size="13.889" text-anchor="start" textLength="35.12" lengthAdjust="spacingAndGlyphs">2100</text>
<text transform="translate(115.34 515.24)" font-size="13.889" text-anchor="end" textLength="35.12" lengthAdjust="spacingAndGlyphs">1000</text>
<text transform="translate(115.27 478.52)" font-size="13.889" text-anchor="end" textLength="35.12" lengthAdjust="spacingAndGlyphs">1250</text>
<text transform="translate(115.46 442.54)" font-size="13.889" text-anchor="end" textLength="35.12" lengthAdjust="spacingAndGlyphs">1500</text>
<text transform="translate(71.44 461.73) rotate(-90)" font-size="13.889" text-anchor="middle" textLength="60.50" lengthAdjust="spacingAndGlyphs">fieldmax</text>
</g>
<g id="ax3">
<rect x="125.0" y="542.069" width="775.0" height="117.241" fill="#fff"/>
<g shape-rendering="crispEdges"><rect x="158" y="599" width="709" height="4" fill="#f5f9fb"/><rect x="159" y="600" width="707" height="2" fill="#1f77b4"/></g>
<g shape-rendering="crispEdges"><rect x="124" y="541" width="778" height="3" fill="#000" fill-opacity="0.055"/><rect x="124" y="658" width="778" height="3" fill="#000" fill-opacity="0.055"/><rect x="124" y="541" width="3" height="120" fill="#000" fill-opacity="0.055"/><rect x="899" y="541" width="3" height="120" fill="#000" fill-opacity="0.055"/><rect x="200" y="660" width="3" height="4" fill="#000" fill-opacity="0.055"/><rect x="283" y="660" width="3" height="4" fill="#000" fill-opacity="0.055"/><rect x="366" y="660" width="3" height="4" fill="#000" fill-opacity="0.055"/><rect x="449" y="660" width="3" height="4" fill="#000" fill-opacity="0.055"/><rect x="532" y="660" width="3" height="4" fill="#000" fill-opacity="0.055"/><rect x="615" y="660" width="3" height="4" fill="#000" fill-opacity="0.055"/><rect x="698" y="660" width="3" height="4" fill="#000" fill-opacity="0.055"/><rect x="781" y="660" width="3" height="4" fill="#000" fill-opacity="0.055"/><rect x="864" y="660" width="3" height="4" fill="#000" fill-opacity="0.055"/><rect x="120" y="546" width="4" height="3" fill="#000" fill-opacity="0.055"/><rect x="120" y="600" width="4" height="3" fill="#000" fill-opacity="0.055"/><rect x="120" y="653" width="4" height="3" fill="#000" fill-opacity="0.055"/><rect x="201" y="660" width="1" height="4" fill="#000"/><rect x="201" y="664" width="1" height="1" fill="#808080"/><rect x="284" y="660" width="1" height="4" fill="#000"/><rect x="284" y="664" width="1" height="1" fill="#808080"/><rect x="367" y="660" width="1" height="4" fill="#000"/><rect x="367" y="664" width="1" height="1" fill="#808080"/><rect x="450" y="660" width="1" height="4" fill="#000"/><rect x="450" y="664" width="1" height="1" fill="#808080"/><rect x="533" y="660" width="1" height="4" fill="#000"/><rect x="533" y="664" width="1" height="1" fill="#808080"/><rect x="616" y="660" width="1" height="4" fill="#000"/><rect x="616" y="664" width="1" height="1" fill="#808080"/><rect x="699" y="660" width="1" height="4" fill="#000"/><rect x="699" y="664" width="1" height="1" fill="#808080"/><rect x="782" y="660" width="1" height="4" fill="#000"/><rect x="782" y="664" width="1" height="1" fill="#808080"/><rect x="865" y="660" width="1" height="4" fill="#000"/><rect x="865" y="664" width="1" height="1" fill="#808080"/><rect x="121" y="547" width="4" height="1" fill="#000"/><rect x="120" y="547" width="1" height="1" fill="#808080"/><rect x="121" y="601" width="4" height="1" fill="#000"/><rect x="120" y="601" width="1" height="1" fill="#808080"/><rect x="121" y="654" width="4" height="1" fill="#000"/><rect x="120" y="654" width="1" height="1" fill="#808080"/><rect x="125" y="542" width="776" height="1" fill="#000"/><rect x="125" y="659" width="776" height="1" fill="#000"/><rect x="125" y="542" width="1" height="118" fill="#000"/><rect x="900" y="542" width="1" height="118" fill="#000"/></g>
<text transform="translate(169.54 696.89) rotate(-30)" font-size="13.889" text-anchor="start" textLength="35.00" lengthAdjust="spacingAndGlyphs">2020</text>
<text transform="translate(252.40 696.90) rotate(-30)" font-size="13.889" text-anchor="start" textLength="35.00" lengthAdjust="spacingAndGlyphs">2030</text>
<text transform="translate(334.48 696.74) rotate(-30)" font-size="13.889" text-anchor="start" textLength="35.00" lengthAdjust="spacingAndGlyphs">2040</text>
<text transform="translate(417.44 696.83) rotate(-30)" font-size="13.889" text-anchor="start" textLength="35.00" lengthAdjust="spacingAndGlyphs">2050</text>
<text transform="translate(500.59 696.72) rotate(-30)" font-size="13.889" text-anchor="start" textLength="35.12" lengthAdjust="spacingAndGlyphs">2060</text>
<text transform="translate(583.56 696.77) rotate(-30)" font-size="13.889" text-anchor="start" textLength="35.00" lengthAdjust="spacingAndGlyphs">2070</text>
<text transform="translate(666.56 696.71) rotate(-30)" font-size="13.889" text-anchor="start" textLength="35.12" lengthAdjust="spacingAndGlyphs">2080</text>
<text transform="translate(749.54 696.69) rotate(-30)" font-size="13.889" text-anchor="start" textLength="35.12" lengthAdjust="spacingAndGlyphs">2090</text>
<text transform="translate(832.55 696.68) rotate(-30)" font-size="13.889" text-anchor="start" textLength="35.12" lengthAdjust="spacingAndGlyphs">2100</text>
<text transform="translate(114.17 659.40)" font-size="13.889" text-anchor="end" textLength="42.25" lengthAdjust="spacingAndGlyphs">−0.05</text>
<text transform="translate(115.86 606.05)" font-size="13.889" text-anchor="end" textLength="30.62" lengthAdjust="spacingAndGlyphs">0.00</text>
<text transform="translate(115.50 552.76)" font-size="13.889" text-anchor="end" textLength="30.62" lengthAdjust="spacingAndGlyphs">0.05</text>
<text transform="translate(65.05 602.92) rotate(-90)" font-size="13.889" text-anchor="middle" textLength="85.25" lengthAdjust="spacingAndGlyphs">nummasked</text>
</g>
<g id="ax4">
<rect x="125.0" y="682.759" width="775.0" height="117.241" fill="#fff"/>
<g shape-rendering="crispEdges"><rect x="158" y="739" width="709" height="4" fill="#f5f9fb"/><rect x="159" y="740" width="707" height="2" fill="#1f77b4"/></g>
<g shape-rendering="crispEdges"><rect x="124" y="682" width="778" height="3" fill="#000" fill-opacity="0.055"/><rect x="124" y="799" width="778" height="3" fill="#000" fill-opacity="0.055"/><rect x="124" y="682" width="3" height="120" fill="#000" fill-opacity="0.055"/><rect x="899" y="682" width="3" height="120" fill="#000" fill-opacity="0.055"/><rect x="200" y="801" width="3" height="4" fill="#000" fill-opacity="0.055"/><rect x="283" y="801" width="3" height="4" fill="#000" fill-opacity="0.055"/><rect x="366" y="801" width="3" height="4" fill="#000" fill-opacity="0.055"/><rect x="449" y="801" width="3" height="4" fill="#000" fill-opacity="0.055"/><rect x="532" y="801" width="3" height="4" fill="#000" fill-opacity="0.055"/><rect x="615" y="801" width="3" height="4" fill="#000" fill-opacity="0.055"/><rect x="698" y="801" width="3" height="4" fill="#000" fill-opacity="0.055"/><rect x="781" y="801" width="3" height="4" fill="#000" fill-opacity="0.055"/><rect x="864" y="801" width="3" height="4" fill="#000" fill-opacity="0.055"/><rect x="120" y="687" width="4" height="3" fill="#000" fill-opacity="0.055"/><rect x="120" y="740" width="4" height="3" fill="#000" fill-opacity="0.055"/><rect x="120" y="794" width="4" height="3" fill="#000" fill-opacity="0.055"/><rect x="201" y="801" width="1" height="4" fill="#000"/><rect x="201" y="805" width="1" height="1" fill="#808080"/><rect x="284" y="801" width="1" height="4" fill="#000"/><rect x="284" y="805" width="1" height="1" fill="#808080"/><rect x="367" y="801" width="1" height="4" fill="#000"/><rect x="367" y="805" width="1" height="1" fill="#808080"/><rect x="450" y="801" width="1" height="4" fill="#000"/><rect x="450" y="805" width="1" height="1" fill="#808080"/><rect x="533" y="801" width="1" height="4" fill="#000"/><rect x="533" y="805" width="1" height="1" fill="#808080"/><rect x="616" y="801" width="1" height="4" fill="#000"/><rect x="616" y="805" width="1" height="1" fill="#808080"/><rect x="699" y="801" width="1" height="4" fill="#000"/><rect x="699" y="805" width="1" height="1" fill="#808080"/><rect x="782" y="801" width="1" height="4" fill="#000"/><rect x="782" y="805" width="1" height="1" fill="#808080"/><rect x="865" y="801" width="1" height="4" fill="#000"/><rect x="865" y="805" width="1" height="1" fill="#808080"/><rect x="121" y="688" width="4" height="1" fill="#000"/><rect x="120" y="688" width="1" height="1" fill="#808080"/><rect x="121" y="741" width="4" height="1" fill="#000"/><rect x="120" y="741" width="1" height="1" fill="#808080"/><rect x="121" y="795" width="4" height="1" fill="#000"/><rect x="120" y="795" width="1" height="1" fill="#808080"/><rect x="125" y="683" width="776" height="1" fill="#000"/><rect x="125" y="800" width="776" height="1" fill="#000"/><rect x="125" y="683" width="1" height="118" fill="#000"/><rect x="900" y="683" width="1" height="118" fill="#000"/></g>
<text transform="translate(169.54 837.58) rotate(-30)" font-size="13.889" text-anchor="start" textLength="35.00" lengthAdjust="spacingAndGlyphs">2020</text>
<text transform="translate(252.40 837.59) rotate(-30)" font-size="13.889" text-anchor="start" textLength="35.00" lengthAdjust="spacingAndGlyphs">2030</text>
<text transform="translate(334.48 837.43) rotate(-30)" font-size="13.889" text-anchor="start" textLength="35.00" lengthAdjust="spacingAndGlyphs">2040</text>
<text transform="translate(417.44 837.52) rotate(-30)" font-size="13.889" text-anchor="start" textLength="35.00" lengthAdjust="spacingAndGlyphs">2050</text>
<text transform="translate(500.59 837.41) rotate(-30)" font-size="13.889" text-anchor="start" textLength="35.12" lengthAdjust="spacingAndGlyphs">2060</text>
<text transform="translate(583.56 837.46) rotate(-30)" font-size="13.889" text-anchor="start" textLength="35.00" lengthAdjust="spacingAndGlyphs">2070</text>
<text transform="translate(666.56 837.40) rotate(-30)" font-size="13.889" text-anchor="start" textLength="35.12" lengthAdjust="spacingAndGlyphs">2080</text>
<text transform="translate(749.54 837.38) rotate(-30)" font-size="13.889" text-anchor="start" textLength="35.12" lengthAdjust="spacingAndGlyphs">2090</text>
<text transform="translate(832.55 837.37) rotate(-30)" font-size="13.889" text-anchor="start" textLength="35.12" lengthAdjust="spacingAndGlyphs">2100</text>
<text transform="translate(512.19 855.94)" font-size="13.889" text-anchor="middle" textLength="63.58" lengthAdjust="spacingAndGlyphs">validtime</text>
<text transform="translate(114.17 800.09)" font-size="13.889" text-anchor="end" textLength="42.25" lengthAdjust="spacingAndGlyphs">−0.05</text>
<text transform="translate(115.86 746.74)" font-size="13.889" text-anchor="end" textLength="30.62" lengthAdjust="spacingAndGlyphs">0.00</text>
<text transform="translate(115.50 694.25)" font-size="13.889" text-anchor="end" textLength="30.62" lengthAdjust="spacingAndGlyphs">0.05</text>
<text transform="translate(64.92 744.21) rotate(-90)" font-size="13.889" text-anchor="middle" textLength="57.12" lengthAdjust="spacingAndGlyphs">numnan</text>
</g>
</svg></body></html>
